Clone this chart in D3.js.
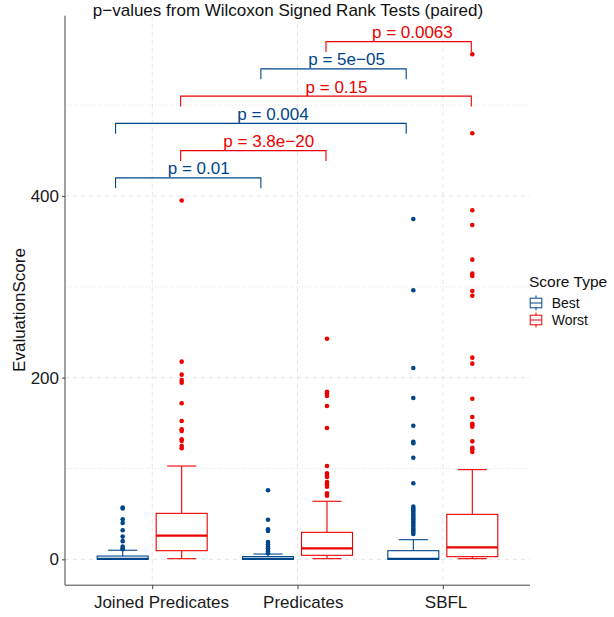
<!doctype html>
<html>
<head>
    <meta charset="utf-8" />
    <title></title>
    <style>
        body { margin: 0; background: #fff; }
        svg text { font-family: "Liberation Sans", Arial, sans-serif; }
    </style>
</head>
<body>
    <div id="chart"></div>

    <script src="https://cdn.jsdelivr.net/npm/d3@7"></script>
    <script>
        // data
        var categories = ["Joined Predicates", "Predicates", "SBFL"];
        var scoreTypes = ["Best", "Worst"];
        var colors = ["#00468B", "#ED0000"];

        // [low whisker, q1, median, q3, high whisker] per category
        var bestStats = [[0, 0, 0.5, 3.6, 10], [0, 0, 0.5, 3, 5.8], [0, 0, 0.5, 9.5, 21.6]];
        var worstStats = [[0.7, 9.5, 26, 50.6, 102.7], [0.7, 4.4, 12.1, 29.7, 63.9], [0.7, 2.9, 13.2, 49.5, 98.7]];

        var bestOutliers = [
            [57, 56, 44, 40, 32, 25, 20, 14, 12, 11],
            [76, 43.6, 33, 31.2, 19, 16.5, 13.9, 12.1, 10.2, 8.4, 6.6],
            [374.7, 296.2, 210.6, 177.6, 147.1, 129.5, 127.7, 111.9, 83.7, 58, 56, 54, 52, 50, 48, 46, 44, 42, 40, 38, 36, 34, 32, 30, 28]
        ];
        var worstOutliers = [
            [395, 217.6, 203.3, 197.4, 194.5, 171.8, 152.3, 143.1, 141.3, 132.1, 130.2, 124.7, 122.2],
            [242.9, 184.5, 182.8, 179.8, 168.8, 144.6, 102.7, 94.7, 92, 90.6, 85.1, 82.6, 79.9, 72.7, 70],
            [556, 469, 384.3, 368, 329.9, 314.5, 312, 295.4, 290.2, 222, 215.4, 176.8, 156.7, 149.3, 147.9, 146, 129.9, 122.9, 121.1, 118.1]
        ];

        // pairwise tests: series index, from category, to category, bracket height, label
        var testSeries = [0, 1, 0, 1, 0, 1];
        var testFrom = [0, 0, 0, 0, 1, 1];
        var testTo = [1, 1, 2, 2, 2, 2];
        var testY = [420, 450, 480, 510, 540, 570];
        var testLabels = ["p = 0.01", "p = 3.8e\u221220", "p = 0.004", "p = 0.15", "p = 5e\u221205", "p = 0.0063"];

        var yTicks = [0, 200, 400];
        var yMinor = [100, 300, 500];

        var w = 614, h = 617;
        var pLeft = 65, pRight = 530, pTop = 15.7, pBottom = 585.2;

        var svg = d3.select("#chart").append("svg").attr("width", w).attr("height", h);

        var x = d3.scalePoint().domain(categories).range([pLeft, pRight]).padding(0.6);
        var step = x.step();
        var y = d3.scaleLinear().domain([-28.5, 598.5]).range([pBottom, pTop]);

        var dodge = [-0.203, 0.203];
        var bracketOff = [-0.252, 0.196];
        var boxW = 0.351 * step, capW = 0.2 * step;

        // grid
        var grid = svg.append("g");
        grid.selectAll("line.minor").data(yMinor).enter().append("line")
            .attr("x1", pLeft).attr("x2", pRight)
            .attr("y1", function(d) { return y(d); }).attr("y2", function(d) { return y(d); })
            .attr("stroke", "#e4e4e4").attr("stroke-dasharray", "1,2");
        grid.selectAll("line.major").data(yTicks).enter().append("line")
            .attr("x1", pLeft).attr("x2", pRight)
            .attr("y1", function(d) { return y(d); }).attr("y2", function(d) { return y(d); })
            .attr("stroke", "#e4e4e4").attr("stroke-dasharray", "4,4");
        grid.selectAll("line.vert").data(categories).enter().append("line")
            .attr("x1", function(d) { return x(d); }).attr("x2", function(d) { return x(d); })
            .attr("y1", pTop).attr("y2", pBottom)
            .attr("stroke", "#e4e4e4").attr("stroke-dasharray", "4,4");

        // axes
        var yAxis = svg.append("g").attr("transform", "translate(" + pLeft + ",0)")
            .call(d3.axisLeft(y).tickValues(yTicks).tickSize(3).tickPadding(3));
        yAxis.select(".domain").attr("d", "M0," + pTop + "V" + pBottom).attr("stroke", "#444");
        var xAxis = svg.append("g").attr("transform", "translate(0," + pBottom + ")")
            .call(d3.axisBottom(x).tickSize(4).tickPadding(8));
        xAxis.select(".domain").attr("d", "M" + pLeft + ",0H" + pRight).attr("stroke", "#444");
        svg.selectAll(".tick line").attr("stroke", "#444");
        svg.selectAll(".tick text").attr("font-size", "17px").attr("fill", "#1a1a1a")
            .attr("font-family", "'Liberation Sans', Arial, sans-serif");
        xAxis.selectAll(".tick text").attr("dy", "0.71em").attr("y", 10.5)
            .attr("dx", function() { return 0.065 * this.getComputedTextLength(); });

        // boxes
        var allStats = [bestStats, worstStats];
        var allOutliers = [bestOutliers, worstOutliers];
        scoreTypes.forEach(function(s, si) {
            var g = svg.append("g");
            var col = colors[si];
            categories.forEach(function(c, ci) {
                var st = allStats[si][ci];
                var cx = x(c) + dodge[si] * step;
                g.append("line").attr("x1", cx).attr("x2", cx).attr("y1", y(st[3])).attr("y2", y(st[4]))
                    .attr("stroke", col).attr("stroke-width", 1.1);
                g.append("line").attr("x1", cx).attr("x2", cx).attr("y1", y(st[1])).attr("y2", y(st[0]))
                    .attr("stroke", col).attr("stroke-width", 1.1);
                g.append("line").attr("x1", cx - capW / 2).attr("x2", cx + capW / 2).attr("y1", y(st[4])).attr("y2", y(st[4]))
                    .attr("stroke", col).attr("stroke-width", 1.1);
                g.append("line").attr("x1", cx - capW / 2).attr("x2", cx + capW / 2).attr("y1", y(st[0])).attr("y2", y(st[0]))
                    .attr("stroke", col).attr("stroke-width", 1.1);
                g.append("rect").attr("x", cx - boxW / 2).attr("width", boxW)
                    .attr("y", y(st[3])).attr("height", y(st[1]) - y(st[3]))
                    .attr("fill", "#fff").attr("stroke", col).attr("stroke-width", 1.1);
                g.append("line").attr("x1", cx - boxW / 2).attr("x2", cx + boxW / 2).attr("y1", y(st[2])).attr("y2", y(st[2]))
                    .attr("stroke", col).attr("stroke-width", 2.2);
                g.selectAll(null).data(allOutliers[si][ci]).enter().append("circle")
                    .attr("cx", cx).attr("cy", function(d) { return y(d); }).attr("r", 2.3)
                    .attr("fill", col);
            });
        });

        // brackets
        var br = svg.append("g");
        testLabels.forEach(function(lab, i) {
            var si = testSeries[i], col = colors[si];
            var x1 = x(categories[testFrom[i]]) + bracketOff[si] * step;
            var x2 = x(categories[testTo[i]]) + bracketOff[si] * step;
            var yy = y(testY[i]), tip = y(testY[i] - 11.5);
            br.append("path").attr("d", "M" + x1 + "," + tip + "V" + yy + "H" + x2 + "V" + tip)
                .attr("fill", "none").attr("stroke", col).attr("stroke-width", 1.1);
            var t = br.append("text").attr("y", yy - 3.5).attr("font-size", "17px").attr("fill", col)
                .attr("text-anchor", "middle").text(lab);
            var tw = t.node().getComputedTextLength();
            t.attr("x", (x1 + x2) / 2 + 0.17 * tw);
        });

        // titles
        svg.append("text").attr("x", 288).attr("y", 16).attr("text-anchor", "middle")
            .attr("font-size", "17px").attr("fill", "#111").text("p\u2212values from Wilcoxon Signed Rank Tests (paired)");
        svg.append("text").attr("transform", "translate(25,310) rotate(-90)").attr("text-anchor", "middle")
            .attr("font-size", "17px").attr("fill", "#111").text("EvaluationScore");

        // legend
        var leg = svg.append("g");
        leg.append("text").attr("x", 529).attr("y", 286.7).attr("font-size", "15.5px").attr("fill", "#111").text("Score Type");
        scoreTypes.forEach(function(s, si) {
            var cy = 303 + si * 17, col = colors[si];
            var kx = 536;
            leg.append("line").attr("x1", kx).attr("x2", kx).attr("y1", cy - 7.5).attr("y2", cy + 7.5)
                .attr("stroke", col).attr("stroke-width", 1);
            leg.append("rect").attr("x", kx - 5.8).attr("y", cy - 4.8).attr("width", 11.6).attr("height", 9.6)
                .attr("fill", "#fff").attr("stroke", col).attr("stroke-width", 1);
            leg.append("line").attr("x1", kx - 5.8).attr("x2", kx + 5.8).attr("y1", cy).attr("y2", cy)
                .attr("stroke", col).attr("stroke-width", 1);
            leg.append("text").attr("x", 551.7).attr("y", cy + 4.9).attr("font-size", "14px").attr("fill", "#111").text(s);
        });
    </script>
</body>
</html>
